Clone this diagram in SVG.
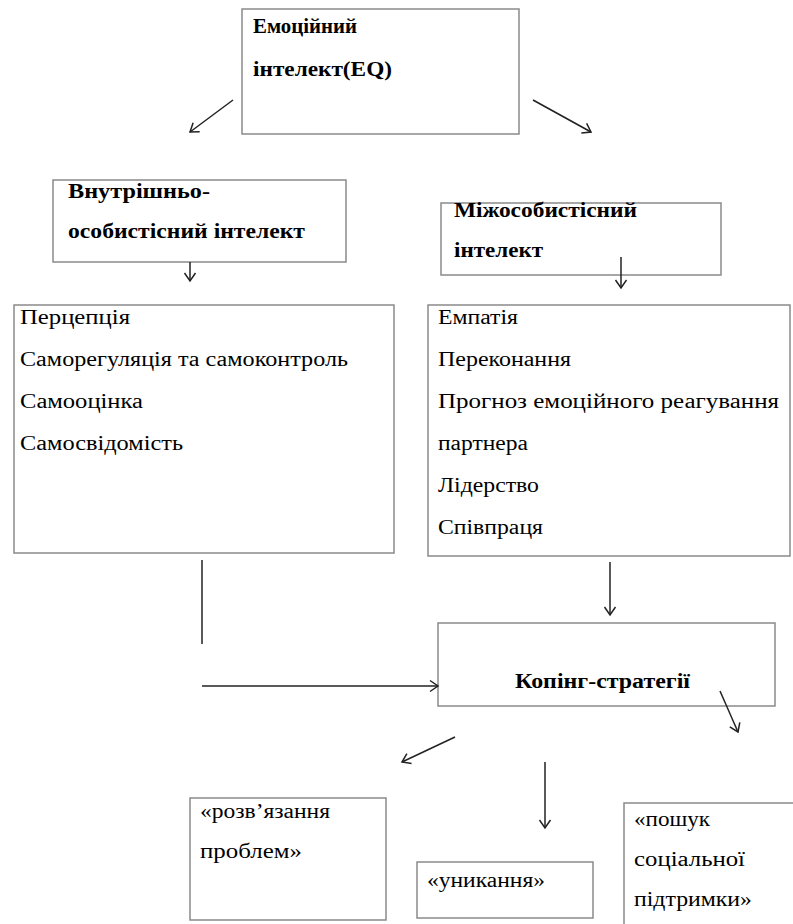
<svg xmlns="http://www.w3.org/2000/svg" width="793" height="924" viewBox="0 0 793 924" font-family="Liberation Serif, Times New Roman, serif">
<defs>
<style>
.box{fill:#fff;stroke:#8a8a8a;stroke-width:1.5}
.t{font-size:20px;fill:#000}
.b{font-weight:bold}
.c{stroke:#222;stroke-width:1.5;fill:none}
</style>
<marker id="ah" markerUnits="userSpaceOnUse" markerWidth="16" markerHeight="16" refX="11" refY="8" orient="auto">
<path d="M3,2.5 L11,8 L3,13.5" fill="none" stroke="#222" stroke-width="1.5"/>
</marker>
</defs>
<rect width="793" height="924" fill="#fff"/>
<g id="eq">
<rect class="box" x="242" y="9" width="277" height="125"/>
<text class="t b" x="253" y="33" textLength="104" lengthAdjust="spacingAndGlyphs">Емоційний</text>
<text class="t b" x="253" y="76" textLength="139" lengthAdjust="spacingAndGlyphs">інтелект(EQ)</text>
</g>
<g id="intra">
<rect class="box" x="53" y="180" width="293" height="82"/>
<text class="t b" x="68" y="198" textLength="142" lengthAdjust="spacingAndGlyphs">Внутрішньо-</text>
<text class="t b" x="68" y="238" textLength="237" lengthAdjust="spacingAndGlyphs">особистісний інтелект</text>
</g>
<g id="inter">
<rect class="box" x="441" y="203" width="280" height="72"/>
<text class="t b" x="454" y="217" textLength="183" lengthAdjust="spacingAndGlyphs">Міжособистісний</text>
<text class="t b" x="454" y="257" textLength="89" lengthAdjust="spacingAndGlyphs">інтелект</text>
</g>
<g id="intra-list">
<rect class="box" x="14" y="305" width="380" height="248"/>
<text class="t" x="20" y="324" textLength="110" lengthAdjust="spacingAndGlyphs">Перцепція</text>
<text class="t" x="20" y="366" textLength="328" lengthAdjust="spacingAndGlyphs">Саморегуляція та самоконтроль</text>
<text class="t" x="20" y="408" textLength="123" lengthAdjust="spacingAndGlyphs">Самооцінка</text>
<text class="t" x="20" y="450" textLength="163" lengthAdjust="spacingAndGlyphs">Самосвідомість</text>
</g>
<g id="inter-list">
<rect class="box" x="428" y="305" width="362" height="251"/>
<text class="t" x="438" y="324" textLength="80" lengthAdjust="spacingAndGlyphs">Емпатія</text>
<text class="t" x="438" y="366" textLength="133" lengthAdjust="spacingAndGlyphs">Переконання</text>
<text class="t" x="438" y="408" textLength="341" lengthAdjust="spacingAndGlyphs">Прогноз емоційного реагування</text>
<text class="t" x="438" y="450" textLength="90" lengthAdjust="spacingAndGlyphs">партнера</text>
<text class="t" x="438" y="492" textLength="101" lengthAdjust="spacingAndGlyphs">Лідерство</text>
<text class="t" x="438" y="534" textLength="105" lengthAdjust="spacingAndGlyphs">Співпраця</text>
</g>
<g id="coping">
<rect class="box" x="438" y="623" width="337" height="83"/>
<text class="t b" x="515" y="688" textLength="175" lengthAdjust="spacingAndGlyphs">Копінг-стратегії</text>
</g>
<g id="problem">
<rect class="box" x="190" y="798" width="196" height="122"/>
<text class="t" x="200" y="818" textLength="130" lengthAdjust="spacingAndGlyphs">«розв’язання</text>
<text class="t" x="200" y="858" textLength="102" lengthAdjust="spacingAndGlyphs">проблем»</text>
</g>
<g id="avoid">
<rect class="box" x="417" y="862" width="176" height="56"/>
<text class="t" x="427" y="887" textLength="118" lengthAdjust="spacingAndGlyphs">«уникання»</text>
</g>
<g id="support">
<rect class="box" x="624" y="803" width="175" height="130"/>
<text class="t" x="634" y="826" textLength="76" lengthAdjust="spacingAndGlyphs">«пошук</text>
<text class="t" x="634" y="866" textLength="111" lengthAdjust="spacingAndGlyphs">соціальної</text>
<text class="t" x="634" y="906" textLength="118" lengthAdjust="spacingAndGlyphs">підтримки»</text>
</g>
<g id="connectors">
<line class="c" x1="233" y1="100" x2="190" y2="132" marker-end="url(#ah)"/>
<line class="c" x1="533" y1="100" x2="591" y2="132" marker-end="url(#ah)"/>
<line class="c" x1="190" y1="262" x2="190" y2="281" marker-end="url(#ah)"/>
<line class="c" x1="621" y1="257" x2="621" y2="288" marker-end="url(#ah)"/>
<line class="c" x1="202" y1="560" x2="202" y2="644"/>
<line class="c" x1="202" y1="686" x2="438" y2="686" marker-end="url(#ah)"/>
<line class="c" x1="610" y1="562" x2="610" y2="615" marker-end="url(#ah)"/>
<line class="c" x1="720" y1="691" x2="738" y2="732" marker-end="url(#ah)"/>
<line class="c" x1="455" y1="737" x2="402" y2="762" marker-end="url(#ah)"/>
<line class="c" x1="545" y1="762" x2="545" y2="828" marker-end="url(#ah)"/>
</g>
</svg>
